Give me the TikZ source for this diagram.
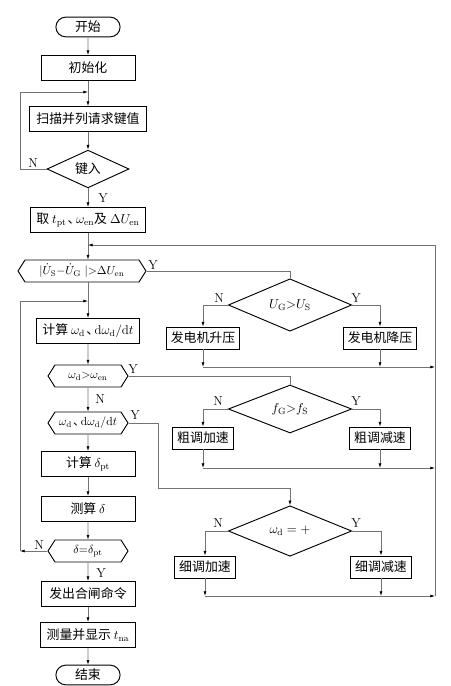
\documentclass[tikz,border=0pt]{standalone}
\usepackage{fontspec}
\newfontfamily\cjk{Noto Sans CJK SC}
\usetikzlibrary{shapes.geometric,shapes.misc,shapes.symbols,arrows.meta}
\newcommand{\dun}{\kern0.1em、\kern-0.35em}

\begin{document}
\begin{tikzpicture}[x=0.03cm,y=-0.03cm,
  every node/.style={font=\cjk\fontsize{11}{13}\selectfont},
  box/.style={draw,line width=0.8pt,minimum width=2.82cm,minimum height=0.75cm,inner xsep=5pt},
  sbox/.style={draw,line width=0.8pt,minimum height=0.66cm,inner xsep=4pt},
  term/.style={draw,line width=0.8pt,rounded rectangle,minimum width=2.16cm,minimum height=0.57cm},
  hexa/.style={draw,line width=0.8pt,signal,signal to=east and west,signal pointer angle=115,
    minimum width=2.4cm,minimum height=0.66cm,inner sep=1pt,font=\cjk\fontsize{10}{12}\selectfont},
  cond/.style={draw,line width=0.8pt,diamond,minimum width=3.7cm,minimum height=1.4cm,inner sep=0pt},
  lab/.style={font=\normalfont\fontsize{11}{13}\selectfont,inner sep=0pt},
  line/.style={draw=black!55,line width=0.6pt},
  >={Latex[length=4pt,width=2.6pt,color=black]}]
  \useasboundingbox (0,0) rectangle (451,686);
  % main column
  \node[term] (start) at (88,27) {开始};
  \node[box] (init) at (88,68) {初始化};
  \node[box,minimum width=3.51cm] (scan) at (88,119) {扫描并列请求键值};
  \node[cond,minimum width=2.46cm,minimum height=1.05cm] (key) at (88,169) {键入};
  \node[box,minimum width=3.24cm] (take) at (88,220) {取 $t_{\rm pt}$\dun$\omega_{\rm en}$及 $\Delta U_{\rm en}$};
  \node[hexa,minimum width=3.84cm] (sv) at (82,271) {$|\dot U_{\rm S}{-}\dot U_{\rm G}\;|{>}\Delta U_{\rm en}$};
  \node[box] (calc) at (88,331) {计算 $\omega_{\rm d}$\dun${\rm d}\omega_{\rm d}/{\rm d}t$};
  \node[hexa] (sp) at (88,376) {$\omega_{\rm d}{>}\omega_{\rm en}$};
  \node[hexa] (acc) at (88,423) {$\omega_{\rm d}$\dun${\rm d}\omega_{\rm d}/{\rm d}t$};
  \node[box] (calcd) at (88,464) {计算 $\delta_{\rm pt}$};
  \node[box] (meas) at (88,509) {测算 $\delta$};
  \node[hexa] (ang) at (88,551) {$\delta{=}\delta_{\rm pt}$};
  \node[box] (fire) at (88,594) {发出合闸命令};
  \node[box] (disp) at (88,635) {测量并显示 $t_{\rm na}$};
  \node[term,minimum height=0.51cm] (stop) at (88,675) {结束};
  % right side
  \node[cond] (volt) at (290,305) {$U_{\rm G}{>}U_{\rm S}$};
  \node[sbox] (up) at (203,338) {发电机升压};
  \node[sbox] (down) at (380,338) {发电机降压};
  \node[cond] (freq) at (290,409) {$f_{\rm G}{>}f_{\rm S}$};
  \node[sbox] (fast) at (203,438) {粗调加速};
  \node[sbox] (slow) at (380,438) {粗调减速};
  \node[cond] (sign) at (290,531) {$\omega_{\rm d}=+$};
  \node[sbox] (ffast) at (205,567) {细调加速};
  \node[sbox] (fslow) at (381,567) {细调减速};
  % merge points
  \coordinate (m1) at (88,92);
  \coordinate (m2) at (88,245);
  \coordinate (m3) at (88,301);
  \coordinate (xl) at (20,0);
  \coordinate (c1) at (435,367);
  \coordinate (c2) at (435,468);
  \coordinate (c3) at (435,596);
  \coordinate (k) at (158,488);
  % main flow
  \draw[line,->] (start) -- (init);
  \draw[line,->] (init) -- (scan);
  \draw[line,->] (scan) -- (key);
  \draw[line,->] (key) -- (take);
  \draw[line,->] (take) -- (take |- sv.north);
  \draw[line,->] (sv.south -| calc) -- (calc);
  \draw[line,->] (calc) -- (sp);
  \draw[line,->] (sp) -- (acc);
  \draw[line,->] (acc) -- (calcd);
  \draw[line,->] (calcd) -- (meas);
  \draw[line,->] (meas) -- (ang);
  \draw[line,->] (ang) -- (fire);
  \draw[line,->] (fire) -- (disp);
  \draw[line,->] (disp) -- (stop);
  % loops on the left
  \draw[line,->] (key.west) -- (key.west -| xl) |- (m1);
  \draw[line,->] (ang.west) -- (ang.west -| xl);
  \draw[line,->] (ang.west -| xl) |- (m3);
  % branches on the right
  \draw[line] (sv.east) -| (volt.north);
  \draw[line] (sp.east) -| (freq.north);
  \draw[line,->] (acc.east) -| (k) -| (sign.north);
  \foreach \d/\l/\r/\c in {volt/up/down/c1,freq/fast/slow/c2,sign/ffast/fslow/c3} {
    \draw[line,->] (\d.west) -| (\l.north);
    \draw[line,->] (\d.east) -| (\r.north);
    \draw[line,->] (\l.south) -- (\l.south |- \c);
    \draw[line,->] (\r.south) -- (\r.south |- \c);
    \draw[line,->] (\l.south |- \c) -- (\c);
  }
  \draw[line,->] (c3) -- (c3 |- m2) -- (m2);
  % Y and N
  \foreach \t/\x/\y [count=\i] in {N/33/163,Y/103/198,Y/153/265,N/219/298,Y/356/298,
      Y/133/369,N/100/399,N/218/401,Y/356/401,Y/135/415,N/218/523,Y/356/523,N/39/545,Y/101/573}
    \node[lab] (yn\i) at (\x,\y) {\t};
\end{tikzpicture}
\end{document}
